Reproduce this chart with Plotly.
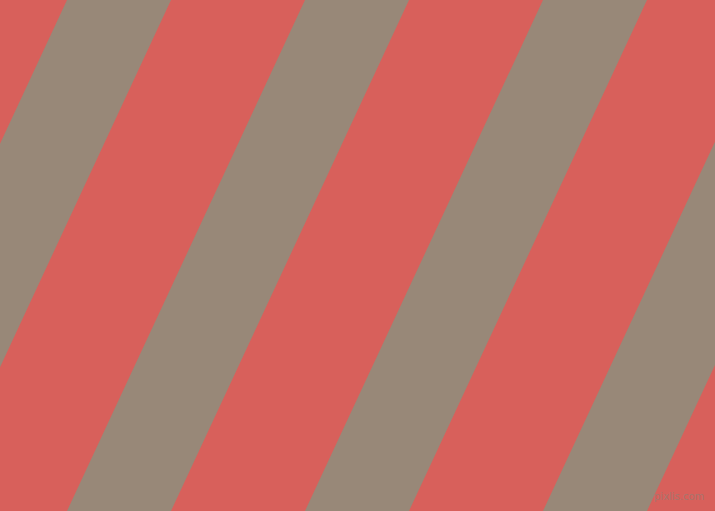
import plotly.graph_objects as go

# diagonal stripe pattern: where each grey stripe meets the top edge (px),
# how wide it is, and how far it drifts left by the bottom edge
stripe_left_top = [-171, 67, 305, 543, 781]
stripe_width = 104
drift = 238

W, H = 715, 511
red = '#D8605B'
grey = '#988878'

fig = go.Figure()

for left in stripe_left_top:
    xs = [left, left + stripe_width, left + stripe_width - drift, left - drift, left]
    ys = [0, 0, H, H, 0]
    fig.add_trace(go.Scatter(x=xs, y=ys, mode='lines', fill='toself',
                             fillcolor=grey, line=dict(width=0),
                             hoverinfo='skip', showlegend=False))

fig.add_annotation(x=706, y=496, text='pixlis.com', showarrow=False,
                   xanchor='right', yanchor='middle',
                   font=dict(family='DejaVu Sans', size=10, color='rgba(160,120,112,0.9)'))

fig.update_layout(
    width=W, height=H,
    margin=dict(l=0, r=0, t=0, b=0),
    paper_bgcolor=red, plot_bgcolor=red,
    xaxis=dict(range=[0, W], visible=False, fixedrange=True),
    yaxis=dict(range=[H, 0], visible=False, fixedrange=True),
)

# drop the browser's default body margin so the chart fills the window
fig.write_html("out.html", config={'displayModeBar': False},
               post_script="document.body.style.margin='0';document.body.style.overflow='hidden';")
